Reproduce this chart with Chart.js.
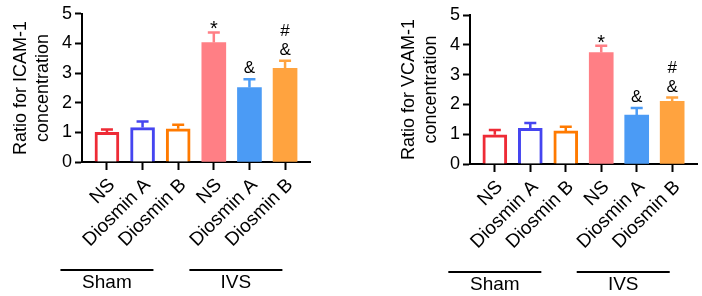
<!DOCTYPE html>
<html>
<head>
<meta charset="utf-8">
<script src="https://cdn.jsdelivr.net/npm/chart.js@4.4.1/dist/chart.umd.min.js"></script>
<style>
  html, body { margin: 0; padding: 0; background: #fff; }
  #wrap { position: relative; width: 702px; height: 296px; overflow: hidden; }
  canvas { position: absolute; top: 0; }
  #c1 { left: 0; }
  #c2 { left: 351px; }
</style>
</head>
<body>
<div id="wrap">
  <canvas id="c1" width="351" height="296"></canvas>
  <canvas id="c2" width="351" height="296"></canvas>
</div>
<script>
// ---- data ----
const categories = ['NS', 'Diosmin A', 'Diosmin B', 'NS', 'Diosmin A', 'Diosmin B'];
const groupLabels = ['Sham', 'IVS'];
const yTickValues = [0, 1, 2, 3, 4, 5];

const icamMean = [1.00, 1.16, 1.12, 4.03, 2.51, 3.16];
const icamSem  = [0.10, 0.21, 0.14, 0.34, 0.28, 0.26];
const icamMarks = [[], [], [], ['*'], ['&'], ['&', '#']];

const vcamMean = [0.98, 1.20, 1.11, 3.74, 1.64, 2.10];
const vcamSem  = [0.16, 0.18, 0.14, 0.23, 0.24, 0.13];
const vcamMarks = [[], [], [], ['*'], ['&'], ['&', '#']];

// ---- styles ----
const FONT = "'Liberation Sans', Arial, Helvetica, sans-serif";
const fillColors   = ['#ffffff', '#ffffff', '#ffffff', '#FF7F85', '#4B9BF5', '#FFA33F'];
const strokeColors = ['#EE2B36', '#4545F0', '#FF7A00', '#FF7F85', '#4B9BF5', '#FFA33F'];
const borderWidths = [3, 3, 3, 0, 0, 0];
const groupCenters = [0, 3.62];

const extrasPlugin = {
  id: 'extras',
  afterDatasetsDraw(chart, args, opts) {
    const ctx = chart.ctx;
    const ys = chart.scales.y;
    const meta = chart.getDatasetMeta(0);
    const ds = chart.data.datasets[0];
    ctx.save();
    meta.data.forEach((el, i) => {
      const v = ds.data[i].y;
      const capY = ys.getPixelForValue(v + opts.sem[i]);
      ctx.strokeStyle = strokeColors[i];
      ctx.lineWidth = 2.5;
      ctx.beginPath();
      ctx.moveTo(el.x, el.y);
      ctx.lineTo(el.x, capY);
      ctx.moveTo(el.x - 6, capY);
      ctx.lineTo(el.x + 6, capY);
      ctx.stroke();
      // significance marks
      ctx.fillStyle = '#000';
      ctx.textAlign = 'center';
      ctx.textBaseline = 'alphabetic';
      let base = capY - 6;
      opts.marks[i].forEach((m) => {
        if (m === '*') {
          ctx.font = '20px ' + FONT;
          ctx.fillText(m, el.x, capY + 3);
        } else {
          ctx.font = '17px ' + FONT;
          ctx.fillText(m, el.x, base);
        }
        base -= 19;
      });
    });
    ctx.restore();
  },
  afterDraw(chart, args, opts) {
    const ctx = chart.ctx;
    const xs = chart.scales.x;
    ctx.save();
    ctx.strokeStyle = '#000';
    ctx.fillStyle = '#000';
    ctx.lineWidth = 2;
    ctx.font = '19px ' + FONT;
    ctx.textAlign = 'center';
    ctx.textBaseline = 'middle';
    groupLabels.forEach((g, i) => {
      const cx = xs.getPixelForValue(groupCenters[i]);
      ctx.beginPath();
      ctx.moveTo(cx - 46.5, opts.lineY);
      ctx.lineTo(cx + 46.5, opts.lineY);
      ctx.stroke();
      ctx.fillText(g, cx, opts.lineY + 13);
    });
    ctx.restore();
  }
};

function makeChart(id, mean, sem, marks, title, cfg) {
  return new Chart(document.getElementById(id), {
    type: 'bar',
    data: {
      datasets: [{
        data: mean.map((v, i) => ({ x: i, y: v })),
        backgroundColor: fillColors,
        borderColor: strokeColors,
        borderWidth: borderWidths,
        borderSkipped: 'start',
        barThickness: 24
      }]
    },
    plugins: [extrasPlugin],
    options: {
      responsive: false,
      animation: false,
      events: [],
      layout: { padding: { top: cfg.top, right: cfg.right, left: 0, bottom: 0 } },
      plugins: {
        legend: { display: false },
        tooltip: { enabled: false },
        extras: { sem: sem, marks: marks, lineY: cfg.lineY }
      },
      scales: {
        x: {
          type: 'linear',
          offset: false,
          min: -0.7,
          max: 5.7,
          afterBuildTicks(scale) { scale.ticks = categories.map((c, i) => ({ value: i })); },
          afterFit(scale) { scale.height = cfg.xHeight; },
          border: { display: true, color: '#000', width: 2 },
          grid: { display: true, offset: false, drawOnChartArea: false, drawTicks: true, tickLength: 8, tickColor: '#000', tickWidth: 2 },
          ticks: {
            autoSkip: false,
            minRotation: 45,
            maxRotation: 45,
            padding: 4,
            labelOffset: 5,
            color: '#000',
            font: { family: FONT, size: 19 },
            callback: (v, i) => categories[i]
          }
        },
        y: {
          min: 0,
          max: 5,
          afterBuildTicks(scale) { scale.ticks = yTickValues.map(v => ({ value: v })); },
          afterFit(scale) { scale.width = cfg.yWidth; },
          border: { display: true, color: '#000', width: 2 },
          grid: { display: true, drawOnChartArea: false, drawTicks: true, tickLength: 7, tickColor: '#000', tickWidth: 2 },
          ticks: { color: '#000', padding: 3, font: { family: FONT, size: 18 } },
          title: {
            display: true,
            text: title,
            color: '#000',
            font: { family: FONT, size: 18, lineHeight: 1.17 },
            padding: { top: cfg.titlePad, bottom: 0 }
          }
        }
      }
    }
  });
}

makeChart('c1', icamMean, icamSem, icamMarks, ['Ratio for ICAM-1', 'concentration'],
  { top: 12, right: 41, xHeight: 134, yWidth: 82, titlePad: 11, lineY: 270 });
makeChart('c2', vcamMean, vcamSem, vcamMarks, ['Ratio for VCAM-1', 'concentration'],
  { top: 15, right: 5, xHeight: 132, yWidth: 119, titlePad: 48, lineY: 272 });
</script>
</body>
</html>
